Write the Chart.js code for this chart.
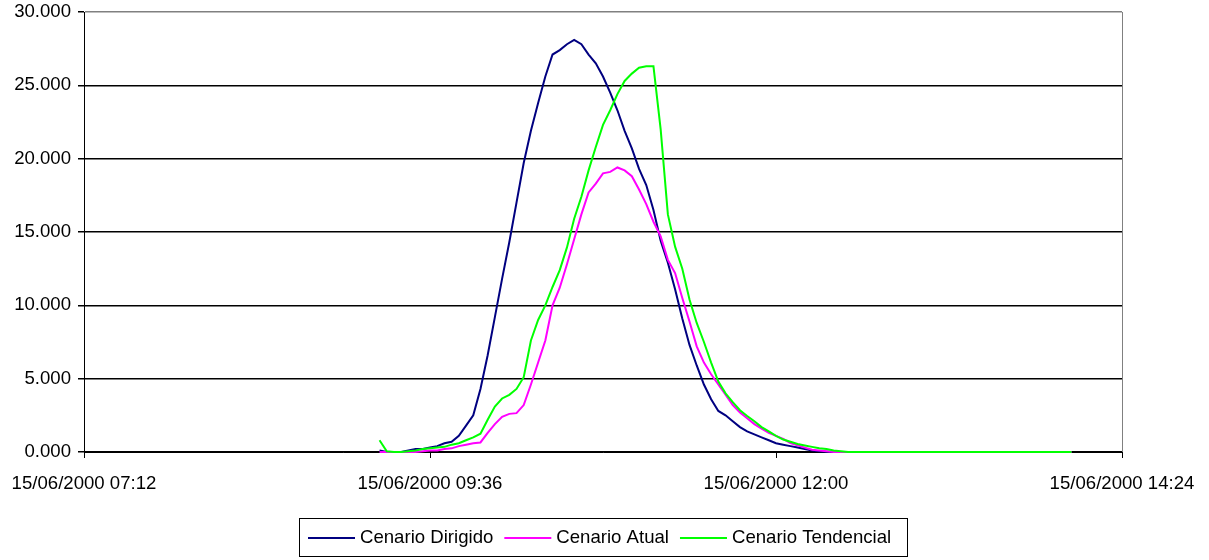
<!DOCTYPE html>
<html>
<head>
<meta charset="utf-8">
<script src="https://cdn.jsdelivr.net/npm/chart.js@4.4.0/dist/chart.umd.min.js"></script>
<style>
  html, body { margin: 0; padding: 0; background: #fff; }
  #wrap { width: 1209px; height: 560px; }
</style>
</head>
<body>
<div id="wrap"><canvas id="myChart" width="1209" height="560"></canvas></div>
<script>
// minutes since midnight, 15/06/2000
var times = [
    555, 558, 561, 564, 567, 570, 573, 576, 579, 582, 585, 588, 591, 594, 597, 600,
    603, 606, 609, 612, 615, 618, 621, 624, 627, 630, 633, 636, 639, 642, 645, 648,
    651, 654, 657, 660, 663, 666, 669, 672, 675, 678, 681, 684, 687, 690, 693, 696,
    699, 702, 705, 708, 711, 714, 717, 720, 723, 726, 729, 732, 735, 738, 741, 744,
    747, 750, 753, 756, 759, 762, 765, 768, 771, 774, 777, 780, 783, 786, 789, 792,
    795, 798, 801, 804, 807, 810, 813, 816, 819, 822, 825, 828, 831, 834, 837, 840,
    843
];

var dirigido = [
    0.1, 0, 0, 0, 0.1, 0.2, 0.2, 0.3, 0.4, 0.6, 0.7, 1.1, 1.8, 2.5, 4.3, 6.6,
    9.2, 11.8, 14.3, 17.0, 19.7, 21.9, 23.8, 25.6, 27.1, 27.4, 27.8, 28.1, 27.8, 27.1, 26.5, 25.6,
    24.5, 23.3, 21.9, 20.7, 19.3, 18.2, 16.5, 14.4, 12.9, 11.1, 9.1, 7.3, 5.9, 4.6, 3.6, 2.8,
    2.5, 2.1, 1.7, 1.4, 1.2, 1.0, 0.8, 0.6, 0.5, 0.4, 0.3, 0.2, 0.1, 0.05, 0.02, 0,
    0, 0, 0, 0, 0, 0, 0, 0, 0, 0, 0, 0, 0, 0, 0, 0,
    0, 0, 0, 0, 0, 0, 0, 0, 0, 0, 0, 0, 0, 0, 0, 0,
    0
];

var atual = [
    0, 0, 0, 0, 0, 0, 0.05, 0.1, 0.1, 0.2, 0.25, 0.4, 0.5, 0.6, 0.65, 1.3,
    1.9, 2.4, 2.6, 2.65, 3.2, 4.6, 6.1, 7.6, 10.0, 11.2, 12.8, 14.5, 16.2, 17.7, 18.3, 19.0,
    19.1, 19.4, 19.2, 18.8, 17.9, 16.9, 15.7, 14.7, 13.1, 12.2, 10.5, 8.9, 7.2, 6.1, 5.3, 4.6,
    3.9, 3.2, 2.7, 2.3, 1.9, 1.6, 1.3, 1.1, 0.9, 0.6, 0.45, 0.3, 0.15, 0.1, 0.05, 0,
    0, 0, 0, 0, 0, 0, 0, 0, 0, 0, 0, 0, 0, 0, 0, 0,
    0, 0, 0, 0, 0, 0, 0, 0, 0, 0, 0, 0, 0, 0, 0, 0,
    0
];

var tendencial = [
    0.8, 0.05, 0, 0, 0.05, 0.1, 0.2, 0.25, 0.3, 0.35, 0.5, 0.6, 0.8, 1.0, 1.25, 2.2,
    3.1, 3.65, 3.9, 4.3, 5.1, 7.6, 9.0, 10.0, 11.25, 12.4, 13.95, 15.9, 17.4, 19.2, 20.8, 22.3,
    23.3, 24.4, 25.3, 25.8, 26.2, 26.3, 26.3, 22.0, 16.2, 14.0, 12.5, 10.4, 8.8, 7.5, 6.1, 4.8,
    4.0, 3.4, 2.85, 2.45, 2.1, 1.7, 1.4, 1.1, 0.85, 0.7, 0.55, 0.45, 0.35, 0.25, 0.2, 0.1,
    0.05, 0, 0, 0, 0, 0, 0, 0, 0, 0, 0, 0, 0, 0, 0, 0,
    0, 0, 0, 0, 0, 0, 0, 0, 0, 0, 0, 0, 0, 0, 0, 0,
    0
];

var seriesNames = ['Cenario Dirigido', 'Cenario Atual', 'Cenario Tendencial'];
var seriesColors = ['#000080', '#ff00ff', '#00ff00'];
var dateLabel = '15/06/2000';

var FONT = '"Liberation Sans", Arial, sans-serif';
var FSIZE = 18.6;

function pairs(vals) {
    return vals.map(function (v, i) { return { x: times[i], y: v }; });
}

function hhmm(m) {
    var h = Math.floor(m / 60), mm = m % 60;
    return (h < 10 ? '0' : '') + h + ':' + (mm < 10 ? '0' : '') + mm;
}

// right border of the plot + boxed legend under the chart
var frame = {
    id: 'frame',
    afterDraw: function (chart) {
        var c = chart.ctx, a = chart.chartArea;
        c.save();
        c.strokeStyle = '#808080';
        c.lineWidth = 1;
        c.beginPath();
        c.moveTo(Math.round(a.right) + 0.5, a.top);
        c.lineTo(Math.round(a.right) + 0.5, a.bottom);
        c.stroke();

        c.font = FSIZE + 'px ' + FONT;
        var lineLen = 47, gap = 5, between = 11, padL = 9, padR = 16;
        var total = padL + padR;
        seriesNames.forEach(function (n, i) {
            total += lineLen + gap + c.measureText(n).width + (i < seriesNames.length - 1 ? between : 0);
        });
        total = Math.round(total);
        var left = Math.round((a.left + a.right) / 2 - total / 2);
        var top = 518, bottom = 556, mid = (top + bottom) / 2 + 1;
        c.strokeStyle = '#000';
        c.strokeRect(left + 0.5, top + 0.5, total, bottom - top);
        var x = left + padL;
        c.textBaseline = 'middle';
        c.fillStyle = '#000';
        seriesNames.forEach(function (n, i) {
            c.strokeStyle = seriesColors[i];
            c.lineWidth = 2;
            c.beginPath();
            c.moveTo(x, mid);
            c.lineTo(x + lineLen, mid);
            c.stroke();
            x += lineLen + gap;
            c.fillText(n, x, mid);
            x += c.measureText(n).width + between;
        });
        c.restore();
    }
};

var ctx = document.getElementById('myChart').getContext('2d');
var chart = new Chart(ctx, {
    type: 'line',
    data: {
        datasets: [
            { label: seriesNames[0], data: pairs(dirigido), borderColor: seriesColors[0], order: 2, clip: false },
            { label: seriesNames[1], data: pairs(atual), borderColor: seriesColors[1], order: 1, clip: false },
            { label: seriesNames[2], data: pairs(tendencial), borderColor: seriesColors[2], order: 0, clip: false }
        ]
    },
    options: {
        responsive: false,
        animation: false,
        events: [],
        layout: {
            padding: { left: 0, right: 87, top: 12, bottom: 0 }
        },
        elements: {
            line: { tension: 0, borderWidth: 2, fill: false },
            point: { radius: 0 }
        },
        plugins: {
            legend: { display: false },
            tooltip: { enabled: false }
        },
        scales: {
            x: {
                type: 'linear',
                min: 432,
                max: 864,
                afterFit: function (s) { s.height = 108; s.paddingLeft = 0; s.paddingRight = 0; },
                ticks: {
                    stepSize: 144,
                    autoSkip: false,
                    maxRotation: 0,
                    padding: 15,
                    color: '#000',
                    font: { family: FONT, size: FSIZE },
                    callback: function (v) { return dateLabel + ' ' + hhmm(v); }
                },
                grid: { drawOnChartArea: false, tickLength: 6, color: '#000' },
                border: { color: '#000', width: 1 }
            },
            y: {
                min: 0,
                max: 30,
                afterFit: function (s) { s.width = 84; s.paddingTop = 0; s.paddingBottom = 0; },
                ticks: {
                    stepSize: 5,
                    padding: 7,
                    color: '#000',
                    font: { family: FONT, size: FSIZE },
                    callback: function (v) { return v.toFixed(3); }
                },
                grid: {
                    tickLength: 6,
                    tickColor: '#000',
                    lineWidth: 1.5,
                    color: function (c) { return c.tick && c.tick.value === 30 ? '#808080' : '#000'; }
                },
                border: { color: '#000', width: 1 }
            }
        }
    },
    plugins: [frame]
});
</script>
</body>
</html>
